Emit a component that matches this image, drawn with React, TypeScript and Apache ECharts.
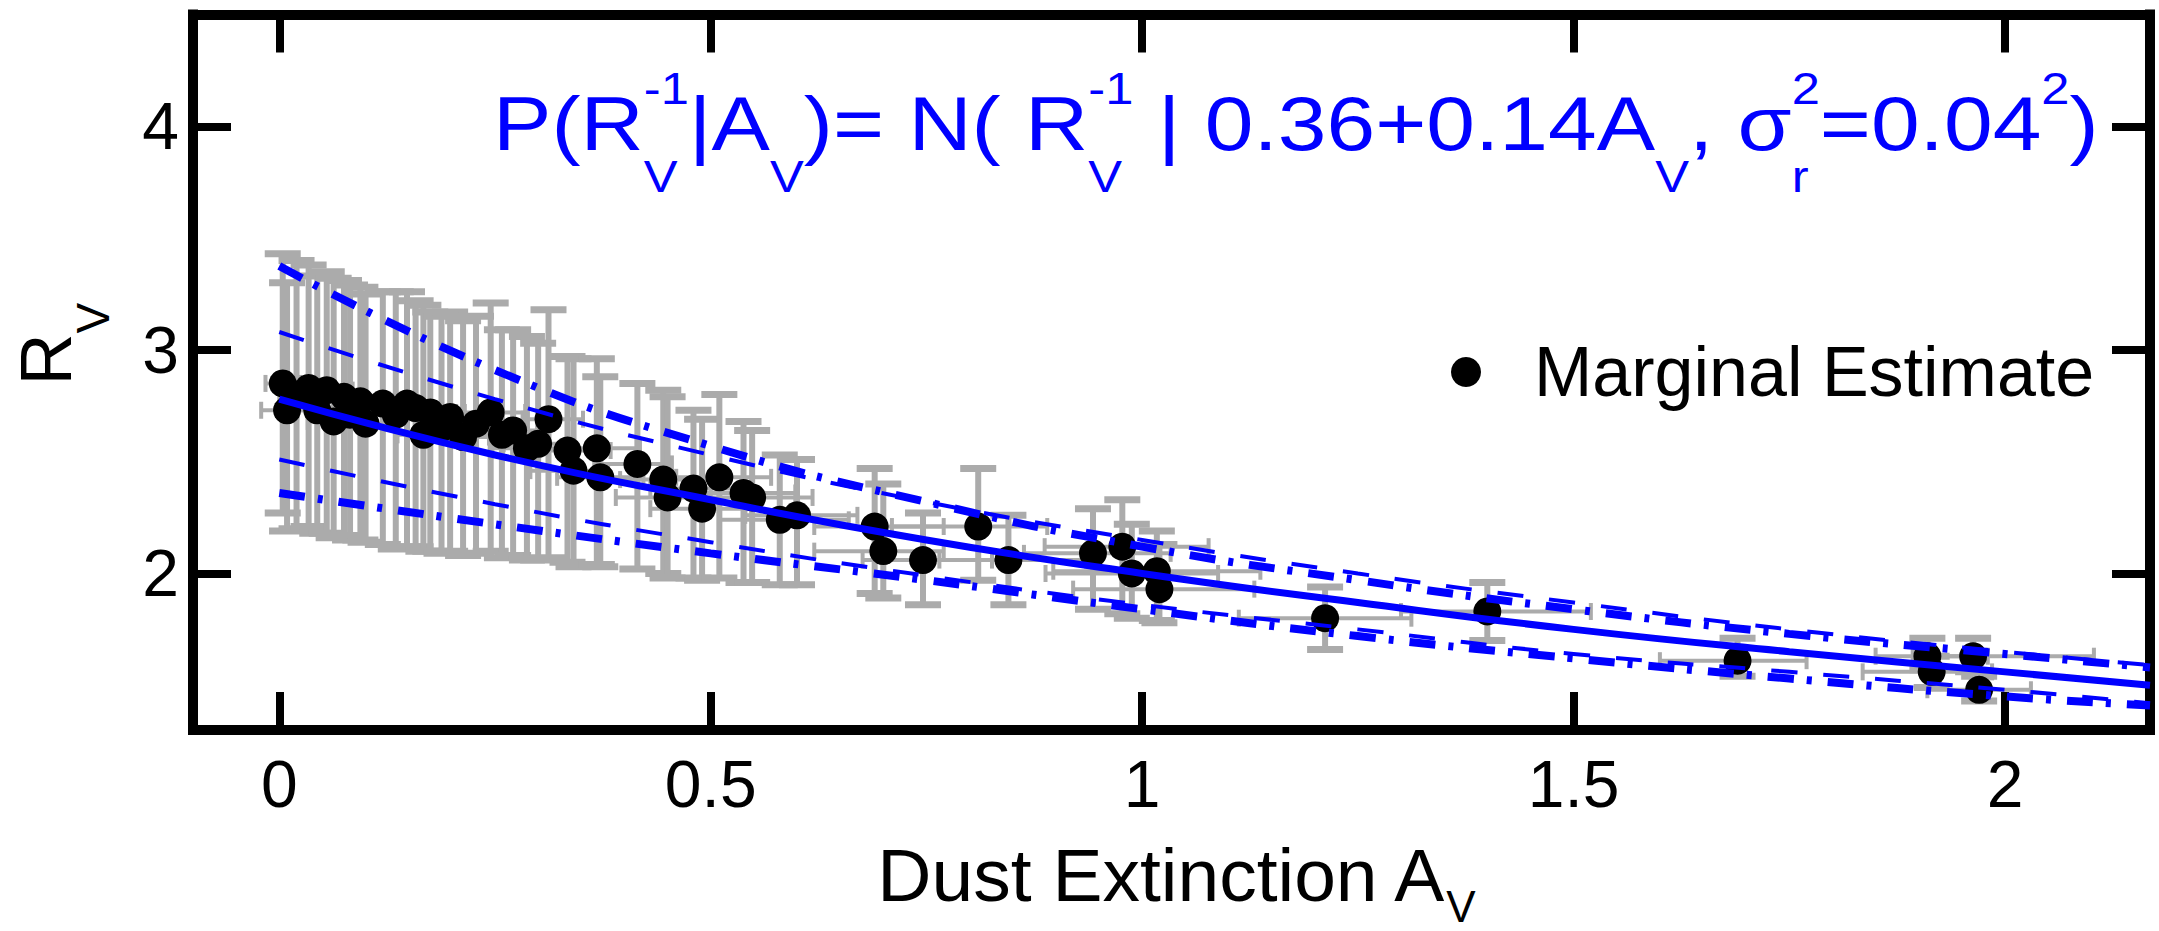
import React, { useEffect, useRef } from "react";
import * as echarts from "echarts";

const FONT = '"Liberation Sans", Arial, Helvetica, sans-serif';
const BLUE = "#0000ff";
const GRAY = "#ababab";

// tick values
const X_TICKS = [0, 0.5, 1, 1.5, 2];
const Y_TICKS = [2, 3, 4];

// marginal estimates (A_V, R_V) with error bars
const AV = [0.004, 0.009, 0.02, 0.034, 0.044, 0.055, 0.063, 0.075, 0.082, 0.094, 0.10, 0.12, 0.135, 0.148, 0.158, 0.167, 0.175, 0.188, 0.198, 0.213, 0.228, 0.245, 0.258, 0.271, 0.287, 0.30, 0.312, 0.334, 0.341, 0.368, 0.372, 0.415, 0.445, 0.45, 0.48, 0.49, 0.51, 0.538, 0.548, 0.58, 0.60, 0.69, 0.70, 0.746, 0.81, 0.845, 0.943, 0.977, 0.988, 1.017, 1.02, 1.212, 1.40, 1.69, 1.91, 1.915, 1.963, 1.97];
const RV = [2.85, 2.73, 2.80, 2.83, 2.73, 2.82, 2.68, 2.79, 2.71, 2.77, 2.67, 2.76, 2.71, 2.76, 2.74, 2.62, 2.72, 2.65, 2.70, 2.61, 2.67, 2.72, 2.62, 2.64, 2.56, 2.58, 2.69, 2.55, 2.46, 2.56, 2.43, 2.49, 2.42, 2.34, 2.38, 2.29, 2.43, 2.36, 2.34, 2.24, 2.26, 2.21, 2.10, 2.06, 2.21, 2.06, 2.09, 2.12, 2.00, 2.01, 1.93, 1.80, 1.83, 1.61, 1.63, 1.56, 1.63, 1.48];
const RV_ERR_UP = [0.58, 0.57, 0.60, 0.55, 0.60, 0.53, 0.64, 0.52, 0.58, 0.51, 0.58, 0.50, 0.55, 0.50, 0.48, 0.58, 0.45, 0.50, 0.47, 0.52, 0.48, 0.49, 0.47, 0.45, 0.50, 0.45, 0.49, 0.42, 0.50, 0.40, 0.45, 0.36, 0.40, 0.45, 0.35, 0.40, 0.37, 0.32, 0.30, 0.29, 0.25, 0.26, 0.30, 0.21, 0.26, 0.20, 0.20, 0.21, 0.22, 0.18, 0.20, 0.14, 0.13, 0.10, 0.08, 0.07, 0.08, 0.06];
const RV_ERR_DOWN = [0.58, 0.54, 0.60, 0.62, 0.55, 0.64, 0.52, 0.62, 0.56, 0.62, 0.53, 0.63, 0.60, 0.64, 0.62, 0.52, 0.62, 0.56, 0.60, 0.53, 0.58, 0.62, 0.55, 0.56, 0.50, 0.52, 0.62, 0.50, 0.43, 0.52, 0.40, 0.47, 0.42, 0.36, 0.40, 0.32, 0.45, 0.40, 0.38, 0.29, 0.31, 0.30, 0.21, 0.20, 0.24, 0.20, 0.25, 0.30, 0.20, 0.22, 0.15, 0.14, 0.13, 0.07, 0.06, 0.07, 0.07, 0.05];
const AV_ERR_DOWN = [0.02, 0.03, 0.02, 0.02, 0.03, 0.02, 0.03, 0.03, 0.02, 0.03, 0.03, 0.03, 0.03, 0.03, 0.03, 0.03, 0.03, 0.03, 0.03, 0.04, 0.03, 0.03, 0.04, 0.04, 0.04, 0.04, 0.03, 0.04, 0.05, 0.04, 0.05, 0.05, 0.05, 0.06, 0.05, 0.06, 0.05, 0.06, 0.06, 0.07, 0.06, 0.07, 0.08, 0.07, 0.10, 0.08, 0.08, 0.09, 0.10, 0.12, 0.10, 0.10, 0.10, 0.09, 0.06, 0.08, 0.07, 0.06];
const AV_ERR_UP = [0.02, 0.03, 0.03, 0.03, 0.02, 0.03, 0.03, 0.02, 0.03, 0.02, 0.03, 0.03, 0.03, 0.04, 0.03, 0.03, 0.03, 0.03, 0.04, 0.03, 0.03, 0.04, 0.03, 0.03, 0.04, 0.04, 0.04, 0.05, 0.04, 0.05, 0.05, 0.04, 0.06, 0.05, 0.06, 0.05, 0.06, 0.06, 0.07, 0.08, 0.07, 0.08, 0.07, 0.08, 0.08, 0.09, 0.09, 0.10, 0.10, 0.12, 0.11, 0.10, 0.12, 0.08, 0.07, 0.07, 0.14, 0.06];

// fitted relation and bands, read at these A_V values
const CURVE_AV = [0, 0.25, 0.5, 0.75, 1.0, 1.25, 1.5, 1.75, 2.0, 2.168];
const FIT_RV = [2.78, 2.53, 2.33, 2.15, 2.0, 1.87, 1.75, 1.65, 1.56, 1.50];
const SIGMA_UPPER = [3.08, 2.78, 2.53, 2.32, 2.15, 2.0, 1.87, 1.75, 1.65, 1.59];
const SIGMA_LOWER = [2.51, 2.31, 2.14, 1.99, 1.86, 1.75, 1.64, 1.56, 1.48, 1.42];
const BAND_UPPER = [3.375, 2.91, 2.57, 2.32, 2.12, 1.97, 1.84, 1.73, 1.64, 1.58];
const BAND_LOWER = [2.36, 2.22, 2.09, 1.97, 1.84, 1.72, 1.62, 1.53, 1.45, 1.41];

// annotation text pieces
const FORMULA_PARTS: { main?: string; sup?: string; sub?: string }[] = [
  { main: "P(R" },
  { sup: "-1", sub: "V" },
  { main: "|A" },
  { sub: "V" },
  { main: ")= N( R" },
  { sup: "-1", sub: "V" },
  { main: " | 0.36+0.14A" },
  { sub: "V" },
  { main: ", σ" },
  { sup: "2", sub: "r" },
  { main: "=0.04" },
  { sup: "2" },
  { main: ")" },
];
const LEGEND_NAME = "Marginal Estimate";

export default function App() {
  const ref = useRef<HTMLDivElement>(null);

  useEffect(() => {
    const el = ref.current!;
    const chart = echarts.init(el, null, { renderer: "svg" });

    const canvas = document.createElement("canvas");
    const ctx = canvas.getContext("2d")!;
    const measure = (t: string, size: number) => {
      ctx.font = `${size}px "Liberation Sans"`;
      return ctx.measureText(t).width;
    };

    const MAIN = 76;
    const SMALL = 44;
    const mainCenter = 150 - 0.3465 * MAIN;
    const supCenter = 104 - 0.3465 * SMALL;
    const subCenter = 191.5 - 0.3465 * SMALL;

    const formulaChildren: any[] = [];
    const addText = (t: string, x: number, y: number, size: number) => {
      const lead = t.length - t.replace(/^\s+/, "").length;
      const x0 = x + (lead ? measure(t.slice(0, lead), size) : 0);
      formulaChildren.push({
        type: "text",
        x: x0,
        y,
        style: {
          text: t.slice(lead),
          fontSize: size,
          fontFamily: FONT,
          fill: BLUE,
          textAlign: "left",
          textVerticalAlign: "middle",
        },
      });
    };
    let cx = 0;
    for (const p of FORMULA_PARTS) {
      if (p.main) {
        addText(p.main, cx, mainCenter, MAIN);
        cx += measure(p.main, MAIN);
      } else {
        let w = 0;
        if (p.sup) {
          addText(p.sup, cx, supCenter, SMALL);
          w = Math.max(w, measure(p.sup, SMALL));
        }
        if (p.sub) {
          addText(p.sub, cx, subCenter, SMALL);
          w = Math.max(w, measure(p.sub, SMALL));
        }
        cx += w;
      }
    }

    const axisLine = { show: true, onZero: false, lineStyle: { color: "#000", width: 10, cap: "square" } };
    const xTick = { show: true, inside: true, length: 38, lineStyle: { color: "#000", width: 8 }, customValues: X_TICKS };
    const yTick = { show: true, inside: true, length: 38, lineStyle: { color: "#000", width: 8 }, customValues: Y_TICKS };

    const pairs = (ys: number[]) => CURVE_AV.map((a, i) => [a, ys[i]]);

    const option: any = {
      animation: false,
      textStyle: { fontFamily: FONT },
      grid: { left: 193, right: 9, top: 14.5, bottom: 201, containLabel: false, outerBoundsMode: "none" },
      legend: {
        data: [LEGEND_NAME],
        left: 1451,
        top: 337,
        padding: 0,
        itemWidth: 30,
        itemHeight: 30,
        icon: "circle",
        itemStyle: { color: "#000" },
        textStyle: { fontSize: 70, fontFamily: FONT, color: "#000", padding: [0, 0, 0, 48] },
      },
      xAxis: [
        {
          type: "value",
          position: "bottom",
          min: -0.1,
          max: 2.168,
          axisLine,
          axisTick: xTick,
          axisLabel: { customValues: X_TICKS, margin: 21, fontSize: 66, color: "#000", fontFamily: FONT },
          splitLine: { show: false },
          name: "{m|Dust Extinction A}{s|V}",
          nameLocation: "middle",
          nameGap: 80,
          nameTextStyle: {
            padding: [0, 0, 0, 8],
            rich: {
              m: { fontSize: 75, fontFamily: FONT, color: "#000", lineHeight: 130 },
              s: { fontSize: 44, fontFamily: FONT, color: "#000", lineHeight: 130, height: 68, verticalAlign: "bottom" },
            },
          },
        },
        {
          type: "value",
          position: "top",
          min: -0.1,
          max: 2.168,
          axisLine,
          axisTick: xTick,
          axisLabel: { show: false },
          splitLine: { show: false },
        },
      ],
      yAxis: [
        {
          type: "value",
          position: "left",
          min: 1.3,
          max: 4.5,
          axisLine,
          axisTick: yTick,
          axisLabel: { customValues: Y_TICKS, margin: 14, fontSize: 66, color: "#000", fontFamily: FONT },
          splitLine: { show: false },
          name: "{m|R}{s|V}",
          nameLocation: "middle",
          nameGap: 77,
          nameTextStyle: {
            padding: [0, 0, 0, 56],
            rich: {
              m: { fontSize: 72, fontFamily: FONT, color: "#000", lineHeight: 140 },
              s: { fontSize: 46, fontFamily: FONT, color: "#000", lineHeight: 140, height: 46, verticalAlign: "bottom" },
            },
          },
        },
        {
          type: "value",
          position: "right",
          min: 1.3,
          max: 4.5,
          axisLine,
          axisTick: yTick,
          axisLabel: { show: false },
          splitLine: { show: false },
        },
      ],
      graphic: [
        {
          type: "group",
          x: 493,
          y: 0,
          scaleX: 1.152,
          children: formulaChildren,
        },
      ],
      series: [
        {
          type: "custom",
          name: "error bars",
          z: 1,
          silent: true,
          clip: true,
          encode: { x: 0, y: 1 },
          data: AV.map((a, i) => [a, RV[i], RV_ERR_DOWN[i], RV_ERR_UP[i], AV_ERR_DOWN[i], AV_ERR_UP[i]]),
          renderItem: (params: any, api: any) => {
            const a = api.value(0);
            const r = api.value(1);
            const lo = api.coord([a, r - api.value(2)]);
            const hi = api.coord([a, r + api.value(3)]);
            const left = api.coord([a - api.value(4), r]);
            const right = api.coord([a + api.value(5), r]);
            const cw = 18;
            const ch = 8.5;
            const vs = { stroke: GRAY, lineWidth: 6, fill: null };
            const cs = { stroke: GRAY, lineWidth: 7, fill: null };
            const hs = { stroke: GRAY, lineWidth: 4, fill: null };
            return {
              type: "group",
              children: [
                { type: "line", shape: { x1: lo[0], y1: lo[1], x2: hi[0], y2: hi[1] }, style: vs },
                { type: "line", shape: { x1: lo[0] - cw, y1: lo[1], x2: lo[0] + cw, y2: lo[1] }, style: cs },
                { type: "line", shape: { x1: hi[0] - cw, y1: hi[1], x2: hi[0] + cw, y2: hi[1] }, style: cs },
                { type: "line", shape: { x1: left[0], y1: left[1], x2: right[0], y2: right[1] }, style: hs },
                { type: "line", shape: { x1: left[0], y1: left[1] - ch, x2: left[0], y2: left[1] + ch }, style: hs },
                { type: "line", shape: { x1: right[0], y1: right[1] - ch, x2: right[0], y2: right[1] + ch }, style: hs },
              ],
            };
          },
        },
        {
          type: "scatter",
          name: LEGEND_NAME,
          z: 2,
          symbol: "circle",
          symbolSize: 28,
          itemStyle: { color: "#000", opacity: 1 },
          data: AV.map((a, i) => [a, RV[i]]),
        },
        {
          type: "line",
          name: "band upper",
          z: 3,
          showSymbol: false,
          smooth: true,
          lineStyle: { color: BLUE, width: 8, type: [26, 13, 5, 16] },
          data: pairs(BAND_UPPER),
        },
        {
          type: "line",
          name: "band lower",
          z: 3,
          showSymbol: false,
          smooth: true,
          lineStyle: { color: BLUE, width: 8, type: [26, 13, 5, 16] },
          data: pairs(BAND_LOWER),
        },
        {
          type: "line",
          name: "sigma upper",
          z: 3,
          showSymbol: false,
          smooth: true,
          lineStyle: { color: BLUE, width: 4, type: [26, 26] },
          data: pairs(SIGMA_UPPER),
        },
        {
          type: "line",
          name: "sigma lower",
          z: 3,
          showSymbol: false,
          smooth: true,
          lineStyle: { color: BLUE, width: 4, type: [26, 26] },
          data: pairs(SIGMA_LOWER),
        },
        {
          type: "line",
          name: "fit",
          z: 4,
          showSymbol: false,
          smooth: true,
          lineStyle: { color: BLUE, width: 7, type: "solid" },
          data: pairs(FIT_RV),
        },
      ],
    };

    chart.setOption(option);
    return () => {
      chart.dispose();
    };
  }, []);

  return (
    <div
      ref={ref}
      style={{ position: "absolute", left: 0, top: 0, width: 2159, height: 931, background: "#fff" }}
    />
  );
}
